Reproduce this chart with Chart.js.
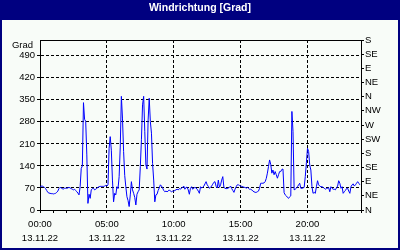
<!DOCTYPE html>
<html>
<head>
<meta charset="utf-8">
<script src="https://cdn.jsdelivr.net/npm/chart.js@4.4.0/dist/chart.umd.min.js"></script>
<style>
  html, body { margin: 0; padding: 0; background: #fff; }
</style>
</head>
<body>
<canvas id="chart" width="400" height="250"></canvas>
<script>
const TITLE = 'Windrichtung [Grad]';
const UNIT = 'Grad';
const STEP_HOURS = 5 / 60; // one reading every 5 minutes

const leftTicks = [0, 70, 140, 210, 280, 350, 420, 490];
const rightTicks = [0, 45, 90, 135, 180, 225, 270, 315, 360, 405, 450, 495, 540];
const compass = ['N', 'NE', 'E', 'SE', 'S', 'SW', 'W', 'NW', 'N', 'NE', 'E', 'SE', 'S'];
const timeTicks = [0, 5, 10, 15, 20];
const timeLabels = ['00:00', '05:00', '10:00', '15:00', '20:00'];
const dateLabel = '13.11.22';

// wind direction in degrees, 12 readings per hour
const direction = [
    72, 76, 76, 74, 72, 68, 62, 56, 54, 53, 52, 52,          // 00
    51, 52, 53, 56, 60, 68, 72, 70, 68, 66, 70, 69,          // 01
    69, 70, 72, 70, 68, 66, 64, 66, 62, 58, 54, 48,          // 02
    74, 132, 140, 341, 288, 282, 175, 21, 50, 37, 64, 68,    // 03
    69, 64, 66, 69, 72, 74, 75, 75, 75, 75, 76, 78,          // 04
    76, 80, 196, 233, 190, 95, 26, 53, 48, 74, 68, 106,      // 05
    200, 361, 292, 186, 110, 74, 42, 30, 11, 48, 90, 64,     // 06
    53, 40, 16, 50, 58, 64, 138, 223, 334, 361, 250, 143,    // 07
    130, 286, 355, 281, 244, 148, 95, 26, 48, 50, 62, 70,    // 08
    80, 76, 70, 62, 58, 60, 58, 60, 64, 60, 58, 60,          // 09
    60, 62, 64, 66, 64, 68, 66, 70, 72, 76, 66, 72,          // 10
    72, 64, 50, 69, 74, 66, 69, 72, 70, 66, 60, 53,          // 11
    74, 70, 72, 76, 83, 90, 80, 75, 69, 72, 76, 82,          // 12
    88, 90, 75, 70, 95, 72, 80, 95, 106, 72, 69, 68,         // 13
    68, 70, 72, 76, 68, 62, 56, 66, 74, 80, 80, 78,          // 14
    76, 75, 74, 72, 72, 69, 72, 69, 66, 66, 64, 60,          // 15
    58, 56, 56, 58, 60, 69, 85, 85, 85, 86, 90, 100,         // 16
    117, 138, 159, 145, 117, 127, 112, 122, 112, 101, 112, 122, // 17
    122, 129, 130, 55, 48, 45, 40, 37, 42, 45, 313, 250,     // 18
    64, 66, 69, 74, 80, 85, 69, 69, 70, 72, 106, 150,        // 19
    196, 186, 143, 127, 74, 53, 56, 53, 74, 93, 80, 76,      // 20
    74, 74, 72, 69, 66, 68, 69, 71, 58, 74, 69, 66,          // 21
    66, 64, 70, 76, 93, 85, 69, 74, 53, 58, 62, 68,          // 22
    69, 60, 53, 74, 80, 83, 76, 80, 85, 90, 85, 80           // 23
];

const labelFont = { family: "'Liberation Sans', Arial, sans-serif", size: 9.5, lineHeight: 1.5 };

const frame = {
    id: 'frame',
    beforeDraw(chart) {
        const { ctx, width, height } = chart;
        ctx.save();
        ctx.fillStyle = '#f8fcf8';
        ctx.fillRect(0, 0, width, height);
        ctx.fillStyle = '#000080';
        ctx.fillRect(0, 0, width, 20);
        ctx.fillRect(0, 0, 2, height);
        ctx.fillRect(width - 2, 0, 2, height);
        ctx.fillRect(0, height - 2, width, 2);
        ctx.restore();
    },
    afterDraw(chart) {
        const { ctx, chartArea: a } = chart;
        ctx.save();
        ctx.strokeStyle = '#000';
        ctx.lineWidth = 1;
        ctx.beginPath();
        ctx.moveTo(a.left, a.top + 0.5);
        ctx.lineTo(a.right + 1, a.top + 0.5);
        ctx.stroke();
        ctx.fillStyle = '#000';
        ctx.font = "9.5px 'Liberation Sans', Arial, sans-serif";
        ctx.textAlign = 'right';
        ctx.textBaseline = 'middle';
        ctx.fillText(UNIT, a.left - 7, a.top + 5);
        ctx.restore();
    }
};

new Chart(document.getElementById('chart'), {
    type: 'line',
    data: {
        datasets: [{
            data: direction.map((v, i) => ({ x: i * STEP_HOURS, y: v })),
            borderColor: '#0000ff',
            borderWidth: 1,
            pointRadius: 0,
            tension: 0,
            fill: false
        }]
    },
    options: {
        responsive: false,
        animation: false,
        devicePixelRatio: 1,
        layout: { padding: 0 },
        plugins: {
            legend: { display: false },
            tooltip: { enabled: false },
            title: {
                display: true,
                text: TITLE,
                color: '#fff',
                font: { family: "'Liberation Sans', Arial, sans-serif", size: 10.5, weight: 'bold', lineHeight: 1.2 },
                padding: { top: 2, bottom: 25.4 }
            }
        },
        scales: {
            x: {
                type: 'linear',
                min: 0,
                max: 24,
                afterFit: s => { s.height = 40; },
                ticks: {
                    stepSize: 1,
                    autoSkip: false,
                    maxRotation: 0,
                    color: '#000',
                    font: labelFont,
                    padding: 4,
                    callback: v => {
                        const k = timeTicks.indexOf(v);
                        return k >= 0 ? [timeLabels[k], dateLabel] : '';
                    }
                },
                grid: {
                    color: c => (c.tick && c.tick.value > 0 && timeTicks.includes(c.tick.value)) ? '#000' : 'rgba(0,0,0,0)',
                    tickColor: '#000',
                    tickLength: 3
                },
                border: { color: '#000', dash: [3, 2] }
            },
            y: {
                position: 'left',
                min: 0,
                max: 540,
                afterBuildTicks: s => { s.ticks = leftTicks.map(v => ({ value: v })); },
                afterFit: s => { s.width = 40; },
                ticks: { color: '#000', font: labelFont, padding: 2, autoSkip: false },
                grid: { color: '#000', tickColor: '#000', tickLength: 3 },
                border: { color: '#000', dash: [3, 2] }
            },
            y2: {
                position: 'right',
                min: 0,
                max: 540,
                afterBuildTicks: s => { s.ticks = rightTicks.map(v => ({ value: v })); },
                afterFit: s => { s.width = 39; },
                ticks: {
                    color: '#000',
                    font: labelFont,
                    padding: 1,
                    autoSkip: false,
                    callback: v => compass[rightTicks.indexOf(v)]
                },
                grid: { drawOnChartArea: false, tickColor: '#000', tickLength: 3 },
                border: { color: '#000' }
            }
        }
    },
    plugins: [frame]
});
</script>
</body>
</html>
